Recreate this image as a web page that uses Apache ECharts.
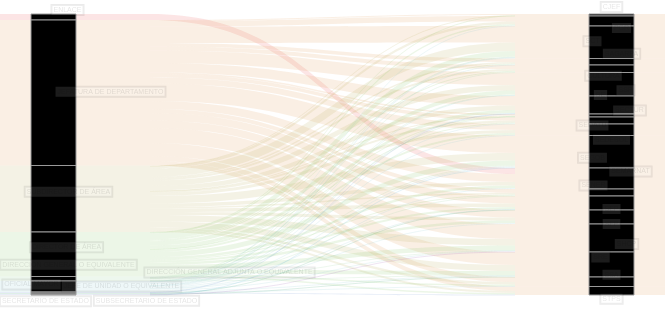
<!DOCTYPE html>
<html><head><meta charset="utf-8">
<script src="https://cdn.jsdelivr.net/npm/echarts@6/dist/echarts.min.js"></script>
<style>html,body{margin:0;padding:0;background:#fff}#c{width:665px;height:310px}</style>
</head><body><div id="c"></div>
<script>
// Left column: position level
const positions = ["ENLACE","JEFATURA DE DEPARTAMENTO","SUBDIRECTOR DE ÁREA","DIRECTOR DE ÁREA",
  "DIRECCIÓN GENERAL O EQUIVALENTE","DIRECCIÓN GENERAL ADJUNTA O EQUIVALENTE","OFICIAL MAYOR",
  "JEFE DE UNIDAD O EQUIVALENTE","SECRETARIO DE ESTADO","SUBSECRETARIO DE ESTADO"];
// Right column: entity
const entities = ["CJEF","PGR","SCT","SAGARPA","CULTURA","SSP","SE","SECTUR","SEDATU","SEDESOL",
  "SEGOB","SEMARNAT","SENER","SEP","SFP","SHCP","SRE","SSA","STPS"];
// Flows from each position to each entity (same order as entities)
const fromEnlace          = [0,0,0,0,0,0,0,0,0,0,0,12,0,0,0,0,0,0,0];
const fromJefatura        = [2,11,33,7,8,25,19,3,7,12,35,16,8,15,15,30,26,10,9];
const fromSubdirector     = [1,5,17,3,4,11,9,1,4,6,15,7,3,7,6,13,12,5,4];
const fromDirector        = [1,3,11,2,2,8,6,1,2,4,10,5,2,4,5,9,8,3,3];
const fromDirGeneral      = [0,0,1,0,1,1,0,1,0,0,2,0,1,0,0,1,1,0,0];
const fromDirGenAdjunta   = [0,1,3,1,0,2,1,0,1,1,2,2,0,1,2,2,2,1,0];
const fromOficialMayor    = [0,0,0,0,0,0,1,0,0,0,0,0,0,0,0,0,0,0,1];
const fromJefeUnidad      = [0,0,0,0,0,0,0,0,0,0,0,0,0,1,0,0,1,0,0];
const fromSecretario      = [0,0,0,0,0,0,0,0,0,0,0,0,0,0,0,1,0,0,0];
const fromSubsecretario   = [0,0,0,0,0,0,0,0,0,0,1,0,0,0,0,0,0,0,0];
const flowRows = [fromEnlace,fromJefatura,fromSubdirector,fromDirector,fromDirGeneral,
  fromDirGenAdjunta,fromOficialMayor,fromJefeUnidad,fromSecretario,fromSubsecretario];

// styles
const positionColors = ['#ee6666','#e0a060','#bdb263','#8fcc73','#95d09a','#8cc8d2','#6a8fd0','#3ba272','#9a60b4','#5ab0d8'];
const entityColor = '#e0a060';
const positionLabelOffsets = [[14,-7],[57,-1],[15,-7],[13,-7],[15,-14],[176,-14],[-22,-8],[68,-7],[-8,7],[93,6]];
const entityLabelOffsets = [[0,-8],[10,7],[-19,-1],[10,-8],[-8,7],[14,6],[-11,-10],[18,-5],[-19,5],[0,10],
  [-19,6],[19,-7],[-18,-7],[0,6],[0,7],[15,6],[-11,-7],[0,-7],[0,8]];

const links = [];
flowRows.forEach((row, i) => row.forEach((v, j) => {
  if (v > 0) links.push({source: positions[i], target: entities[j], value: v});
}));

const nodesA = positions.map((n, i) => ({name: n, itemStyle: {color: positionColors[i]}}))
  .concat(entities.map(n => ({name: n, itemStyle: {color: entityColor}})));
const nodesB = positions.map((n, i) => ({name: n, label: {offset: positionLabelOffsets[i]}}))
  .concat(entities.map((n, j) => ({name: n, label: {offset: entityLabelOffsets[j]}})));

const chart = echarts.init(document.getElementById('c'), null, {renderer: 'canvas'});
chart.setOption({
  animation: false,
  series: [
    {
      type: 'sankey', left: 0, right: 0, top: 14, bottom: 15,
      nodeWidth: 150, nodeGap: 0, layoutIterations: 0, draggable: false, silent: true,
      label: {show: false},
      itemStyle: {opacity: 0.17, borderWidth: 0},
      lineStyle: {color: 'source', opacity: 0.17, curveness: 0.5},
      emphasis: {disabled: true},
      data: nodesA, links: links
    },
    {
      type: 'sankey', left: 31, right: 31, top: 14, bottom: 15,
      nodeWidth: 45, nodeGap: 0, layoutIterations: 0, draggable: false, silent: true,
      itemStyle: {color: '#000', borderColor: '#9a9a9a', borderWidth: 1},
      lineStyle: {opacity: 0},
      emphasis: {disabled: true},
      label: {
        show: true, position: 'inside', fontSize: 7, fontFamily: 'Liberation Sans',
        color: 'rgba(0,0,0,0.11)', backgroundColor: 'rgba(255,255,255,0.11)',
        borderColor: 'rgba(0,0,0,0.08)', borderWidth: 1, padding: [2, 2, 1, 2]
      },
      data: nodesB, links: links
    }
  ]
});
</script></body></html>
